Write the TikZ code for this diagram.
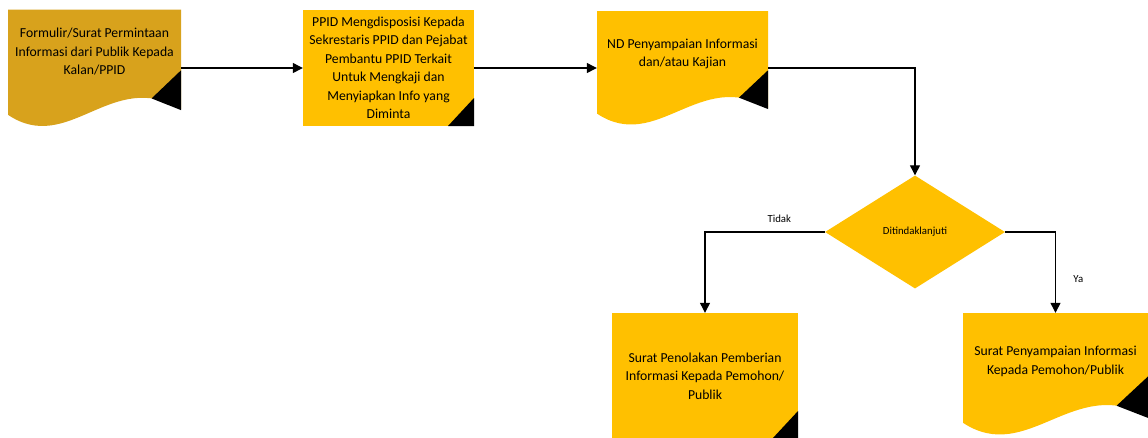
\documentclass[tikz,border=0pt]{standalone}
\usepackage{fontspec}
\setmainfont{Carlito}
\usetikzlibrary{shapes.geometric,arrows.meta,calc}

\definecolor{darkgold}{HTML}{D8A21C}
\definecolor{boxgold}{HTML}{FFC000}

\tikzset{
  base/.style={rectangle, inner sep=0pt, align=center,
    font=\fontsize{13.7}{18.5}\selectfont},
  % document shape: wavy bottom and a black corner
  docshape/.style={base, path picture={
    \fill[#1] let \p1=(path picture bounding box.south west),
      \p2=(path picture bounding box.north east),
      \n1={\x2-\x1}, \n2={\y2-\y1} in
      (\x1,\y2) -- (\x2,\y2) -- (\x2,{\y2-0.85*\n2})
      .. controls ({\x1+0.6*\n1},{\y2-0.5*\n2}) and ({\x1+0.35*\n1},{\y2-1.25*\n2})
      .. (\x1,{\y2-0.9*\n2}) -- cycle;
    \fill[black] let \p1=(path picture bounding box.south west),
      \p2=(path picture bounding box.north east),
      \n1={\x2-\x1}, \n2={\y2-\y1} in
      ({\x1+0.83*\n1},{\y2-0.76*\n2}) -- (\x2,{\y2-0.52*\n2})
      -- (\x2,{\y2-0.86*\n2}) -- cycle;
  }},
  % plain box with folded corner
  foldbox/.style={base, fill=boxgold, path picture={
    \fill[black] ($(path picture bounding box.south east)+(-26,0)$)
      -- ($(path picture bounding box.south east)+(0,28)$)
      -- (path picture bounding box.south east) -- cycle;
  }},
  decision/.style={diamond, fill=boxgold, inner sep=0pt,
    minimum width=180pt, minimum height=113pt,
    font=\fontsize{10.8}{13}\selectfont},
  conn/.style={-{Triangle[length=10pt,width=10pt]}, line width=1.2pt},
  lbl/.style={font=\fontsize{10.8}{13}\selectfont}
}

\begin{document}
\begin{tikzpicture}[x=1pt, y=1pt]
  \useasboundingbox (0,0) rectangle (1148,-437);
  \clip (0,0) rectangle (1148,-437);

  % Top row
  \node[docshape=darkgold, minimum width=173pt, minimum height=117pt, text depth=33pt]
    (form) at (94.5,-68) {Formulir/Surat Permintaan\\Informasi dari Publik Kepada\\Kalan/PPID};
  \node[foldbox, minimum width=171pt, minimum height=116pt]
    (ppid) at (388.5,-68) {PPID Mengdisposisi Kepada\\Sekrestaris PPID dan Pejabat\\Pembantu PPID Terkait\\Untuk Mengkaji dan\\Menyiapkan Info yang\\Diminta};
  \node[docshape=boxgold, minimum width=171pt, minimum height=114pt, text depth=30pt]
    (nd) at (682.5,-68) {ND Penyampaian Informasi\\dan/atau Kajian};

  % Decision
  \node[decision] (dec) at (915,-232) {Ditindaklanjuti};

  % Bottom row
  \node[foldbox, minimum width=186pt, minimum height=126pt]
    (rej) at (705,-376) {Surat Penolakan Pemberian\\Informasi Kepada Pemohon/\\Publik};
  \node[docshape=boxgold, minimum width=185pt, minimum height=122pt, text depth=27pt]
    (acc) at (1055.5,-374) {Surat Penyampaian Informasi\\Kepada Pemohon/Publik};

  % Connectors
  \draw[conn] (form) -- (ppid);
  \draw[conn] (ppid) -- (nd);
  \draw[conn] (nd.east) -| (dec.north);
  \draw[conn] (dec.west) -| node[lbl, pos=0.19, above=5pt] {Tidak} (rej.north);
  \draw[conn] (dec.east) -| node[lbl, pos=0.79, right=14pt] {Ya} (acc.north);
\end{tikzpicture}
\end{document}
